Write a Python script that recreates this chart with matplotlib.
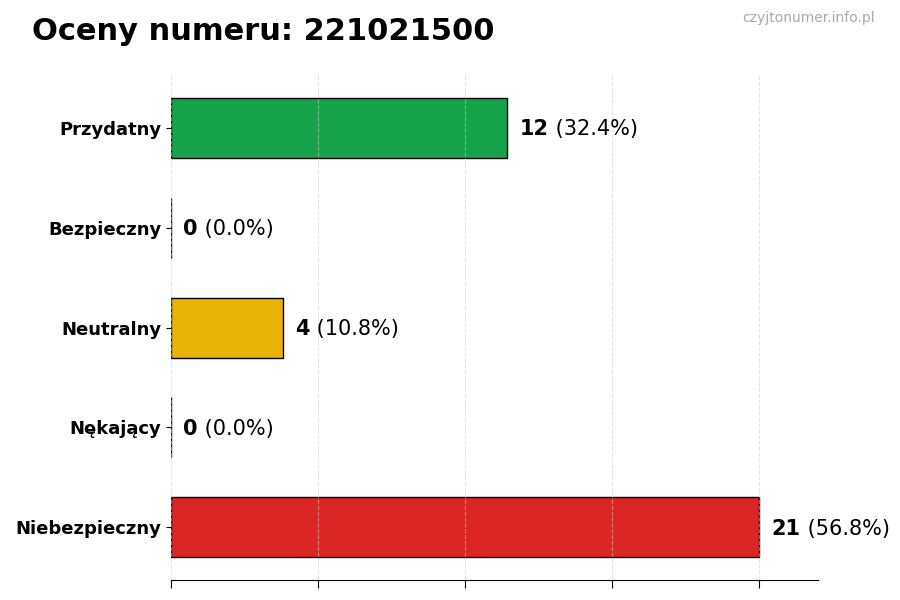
import numpy as np
import matplotlib.pyplot as plt

categories = ["Przydatny", "Bezpieczny", "Neutralny", "Nękający", "Niebezpieczny"]
counts = [12, 0, 4, 0, 21]
colors = ["#16a34a", "#22c55e", "#eab308", "#f97316", "#dc2626"]
title = "Oceny numeru: 221021500"
watermark = "czyjtonumer.info.pl"

total = sum(counts)
fig = plt.figure(figsize=(9, 6), dpi=100)
ax = fig.add_axes([0.19, 0.033, 0.719, 0.842])

y = np.arange(len(categories))
ax.barh(y, counts, height=0.6, color=colors, edgecolor="black", linewidth=1)
ax.set_yticks(y)
ax.set_yticklabels(categories, fontsize=13, fontweight="bold")
ax.set_ylim(len(categories) - 0.47, -0.53)

xmax = max(counts)
ax.set_xlim(0, xmax * 1.1)
ax.set_xticks(np.linspace(0, xmax, 5))
ax.set_xticklabels([])
ax.tick_params(axis="x", length=6)
ax.grid(axis="x", linestyle="--", color="#cccccc", alpha=0.55, linewidth=0.8)
ax.set_axisbelow(False)
for s in ["top", "right", "left"]:
    ax.spines[s].set_visible(False)

for yi, c in zip(y, counts):
    t = ax.annotate(str(c), xy=(c, yi), xytext=(9, -1), textcoords="offset points",
                    va="center", ha="left", fontsize=15, fontweight="bold")
    ax.annotate(f" ({c / total * 100:.1f}%)", xy=(1, 0.5), xycoords=t,
                va="center", ha="left", fontsize=15)

fig.text(32 / 900, 1 - 31 / 600, title, fontsize=22, fontweight="bold", va="center", ha="left")
fig.text(875 / 900, 1 - 18 / 600, watermark, fontsize=10, color="#aaaaaa", va="center", ha="right")

fig.savefig("out.png", dpi=100)
